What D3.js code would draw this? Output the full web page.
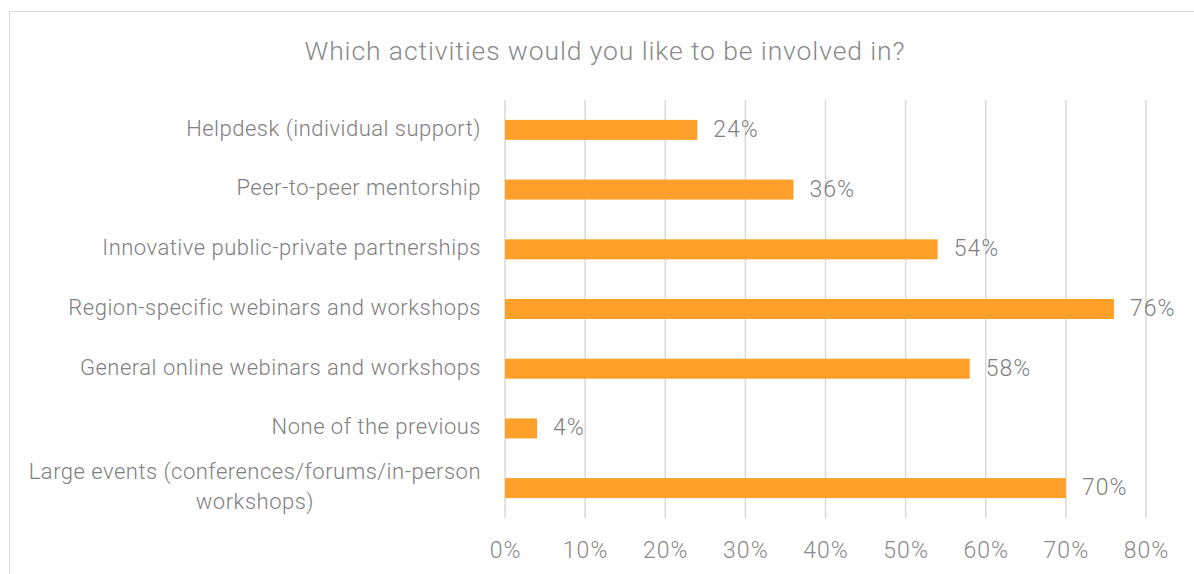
<!DOCTYPE html>
<html>
<head>
<meta charset="utf-8">
<script src="https://cdn.jsdelivr.net/npm/d3@7"></script>
<style>
  body { margin: 0; background: #fff; }
  svg { display: block; font-family: Roboto, "Liberation Sans", sans-serif; font-weight: 300; }
</style>
</head>
<body>
<div id="graph"></div>
<script>
var title = 'Which activities would you like to be involved in?'
var categories = [
	['Helpdesk (individual support)'],
	['Peer-to-peer mentorship'],
	['Innovative public-private partnerships'],
	['Region-specific webinars and workshops'],
	['General online webinars and workshops'],
	['None of the previous'],
	['Large events (conferences/forums/in-person', 'workshops)']
]
var values = [24, 36, 54, 76, 58, 4, 70]
var ticks = [0, 10, 20, 30, 40, 50, 60, 70, 80]

var data = categories.map((lines, i) => ({lines, value: values[i], key: lines.join(' ')}))

var W = 1194, H = 574
var grey = '#808080'
var svg = d3.select('#graph').append('svg').attr('width', W).attr('height', H)

// chart frame (cropped at right/bottom like the screenshot)
svg.append('rect')
	.attr('x', 9.5).attr('y', 11.5).attr('width', W).attr('height', H)
	.attr('fill', 'none').attr('stroke', '#d9d9d9')

svg.append('text')
	.attr('x', 605).attr('y', 53)
	.attr('text-anchor', 'middle').attr('dominant-baseline', 'middle')
	.attr('fill', '#8a8a8a').attr('font-size', 26.5).attr('letter-spacing', 0.9)
	.text(title)

var x = d3.scaleLinear().domain([0, 80]).range([505, 1146])
var y = d3.scaleBand().domain(data.map(d => d.key)).range([100, 518]).paddingInner(0.665).paddingOuter(0.333)

// gridlines
svg.append('g').selectAll('line').data(ticks).join('line')
	.attr('x1', d => x(d)).attr('x2', d => x(d))
	.attr('y1', 100).attr('y2', 518)
	.attr('stroke', '#d9d9d9').attr('stroke-width', 1.5)

// x axis labels
var xAxis = d3.axisBottom(x).tickValues(ticks).tickFormat(d => d + '%').tickSize(0).tickPadding(0)
var ax = svg.append('g').attr('transform', 'translate(0,550)').call(xAxis)
ax.select('.domain').remove()
ax.selectAll('text')
	.attr('dy', '0.35em').attr('y', 0)
	.attr('fill', '#8a8a8a').attr('font-size', 23).attr('letter-spacing', 1)
	.style('font-family', 'Roboto, "Liberation Sans", sans-serif').style('font-weight', 300)

// bars
svg.append('g').selectAll('rect').data(data).join('rect')
	.attr('x', x(0)).attr('y', d => y(d.key))
	.attr('width', d => x(d.value) - x(0)).attr('height', y.bandwidth())
	.attr('fill', '#ffa02b')

// value labels
svg.append('g').selectAll('text').data(data).join('text')
	.attr('x', d => x(d.value) + 16)
	.attr('y', d => y(d.key) + y.bandwidth() / 2 + 1)
	.attr('dominant-baseline', 'middle')
	.attr('fill', grey).attr('font-size', 23).attr('letter-spacing', 1)
	.text(d => d.value + '%')

// category labels
var lab = svg.append('g').selectAll('g').data(data).join('g')
lab.each(function(d){
	var g = d3.select(this)
	var cy = y(d.key) + y.bandwidth() / 2
	var lh = 30
	if (d.lines.length == 1){
		g.append('text').attr('x', 481).attr('y', cy)
			.attr('text-anchor', 'end').attr('dominant-baseline', 'middle')
			.attr('fill', grey).attr('font-size', 22).attr('letter-spacing', 0.5)
			.text(d.lines[0])
	} else {
		var t = g.append('text').attr('fill', grey).attr('font-size', 22).attr('letter-spacing', 0.5)
		var lines = d.lines.map((s, i) => t.append('tspan').text(s).attr('dominant-baseline', 'middle'))
		var wmax = d3.max(lines, s => s.node().getComputedTextLength())
		var cx = 481 - wmax / 2
		lines.forEach((s, i) => {
			s.attr('x', cx).attr('text-anchor', 'middle')
				.attr('y', cy + (i - (d.lines.length - 1) / 2) * lh)
		})
	}
})
</script>
</body>
</html>
